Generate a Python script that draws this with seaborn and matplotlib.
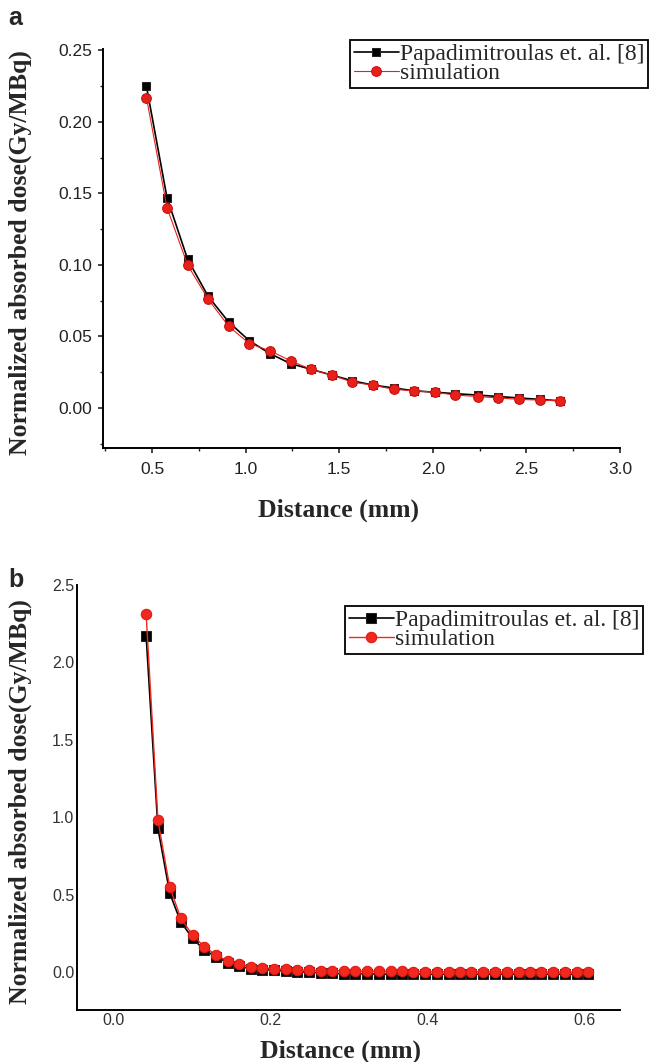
# dose profiles: comparison with Papadimitroulas et. al.
import matplotlib
matplotlib.use("Agg")
import seaborn as sns
import matplotlib.pyplot as plt
from matplotlib.ticker import MultipleLocator

# panel a
dist_a = [0.47, 0.58, 0.69, 0.80, 0.91, 1.02, 1.13, 1.24, 1.35, 1.46, 1.57,
          1.68, 1.79, 1.90, 2.01, 2.12, 2.24, 2.35, 2.46, 2.57, 2.68]
papa_a = [0.225, 0.147, 0.104, 0.078, 0.060, 0.047, 0.038, 0.031, 0.027, 0.023, 0.019,
          0.016, 0.014, 0.012, 0.011, 0.010, 0.009, 0.008, 0.007, 0.006, 0.005]
sim_a = [0.217, 0.140, 0.100, 0.076, 0.057, 0.045, 0.040, 0.033, 0.027, 0.023, 0.018,
         0.016, 0.013, 0.012, 0.011, 0.009, 0.008, 0.007, 0.006, 0.0055, 0.005]

# panel b
dist_b = [0.042, 0.057, 0.072, 0.086, 0.101, 0.116, 0.131, 0.146, 0.160, 0.175,
          0.190, 0.205, 0.220, 0.234, 0.249, 0.264, 0.279, 0.294, 0.308, 0.323,
          0.338, 0.353, 0.368, 0.382, 0.397, 0.412, 0.427, 0.442, 0.456, 0.471,
          0.486, 0.501, 0.516, 0.530, 0.545, 0.560, 0.575, 0.590, 0.604]
papa_b = [2.17, 0.93, 0.51, 0.325, 0.22, 0.143, 0.10, 0.061, 0.040, 0.022,
          0.017, 0.013, 0.007, 0.003, 0.0, -0.005, -0.008, -0.010, -0.010, -0.010,
          -0.012, -0.012, -0.012, -0.012, -0.013, -0.013, -0.013, -0.013, -0.013, -0.013,
          -0.013, -0.013, -0.013, -0.013, -0.013, -0.013, -0.013, -0.013, -0.013]
sim_b = [2.31, 0.98, 0.55, 0.35, 0.24, 0.165, 0.11, 0.072, 0.050, 0.035,
         0.028, 0.022, 0.018, 0.014, 0.012, 0.010, 0.009, 0.008, 0.007, 0.006,
         0.006, 0.005, 0.005, 0.004, 0.004, 0.004, 0.003, 0.003, 0.003, 0.003,
         0.002, 0.002, 0.002, 0.002, 0.002, 0.002, 0.001, 0.001, 0.001]

labels = ["Papadimitroulas et. al. [8]", "simulation"]

sns.set_style("ticks")
plt.rcParams["font.family"] = ["Liberation Sans", "DejaVu Sans"]

fig = plt.figure(figsize=(6.49, 10.62), dpi=100)
ax1 = fig.add_axes([103/649, 1-448/1062, 517/649, 399/1062])
ax2 = fig.add_axes([77/649, 1-1010/1062, 543/649, 425/1062])

serif = ["Liberation Serif", "DejaVu Serif"]

# (a)
sns.lineplot(x=dist_a, y=papa_a, ax=ax1, color="black", marker="s", markersize=5.5,
             markeredgecolor="#222", linewidth=1.2, label=labels[0])
sns.lineplot(x=dist_a, y=sim_a, ax=ax1, color="#e8201a", marker="o", markersize=7,
             markeredgecolor="#c81010", linewidth=0.8, label=labels[1])
ax1.set_xlim(0.238, 3.0)
ax1.set_ylim(-0.028, 0.251)
ax1.xaxis.set_major_locator(MultipleLocator(0.5))
ax1.xaxis.set_minor_locator(MultipleLocator(0.25))
ax1.yaxis.set_major_locator(MultipleLocator(0.05))
ax1.yaxis.set_minor_locator(MultipleLocator(0.025))
ax1.set_yticks([0.0, 0.05, 0.10, 0.15, 0.20, 0.25])
ax1.set_yticklabels(["0.00", "0.05", "0.10", "0.15", "0.20", "0.25"])
ax1.tick_params(which="major", direction="out", length=3.6, width=1.2, labelsize=12.5,
                labelcolor="#222")
ax1.tick_params(axis="x", which="major", pad=6.5)
ax1.tick_params(axis="y", which="major", pad=4)
ax1.tick_params(which="minor", direction="out", length=2.5, width=1)

# (b)
sns.lineplot(x=dist_b, y=papa_b, ax=ax2, color="black", marker="s", markersize=6.5,
             markeredgecolor="#222", linewidth=1.2, label=labels[0])
sns.lineplot(x=dist_b, y=sim_b, ax=ax2, color="#f0281e", marker="o", markersize=7.5,
             markeredgecolor="#e01810", linewidth=1.0, label=labels[1])
ax2.set_xlim(-0.046, 0.645)
ax2.set_ylim(-0.244, 2.5)
ax2.set_xticks([0.0, 0.2, 0.4, 0.6])
ax2.set_yticks([0.0, 0.5, 1.0, 1.5, 2.0, 2.5])
ax2.tick_params(length=0, pad=2, labelsize=11.5, labelcolor="#333")

for ax in (ax1, ax2):
    sns.despine(ax=ax)
    for s in ("left", "bottom"):
        ax.spines[s].set_linewidth(1.4)
        ax.spines[s].set_color("black")
    ax.set_xlabel("Distance (mm)", fontsize=18.5, fontweight="bold", family=serif)
    ax.set_ylabel("Normalized absorbed dose(Gy/MBq)", fontsize=18.5, fontweight="bold",
                  family=serif)

ax1.xaxis.set_label_coords(0.455, -0.127)
ax1.yaxis.set_label_coords(-0.137, 0.49)
ax2.xaxis.set_label_coords(0.486, -0.069)
ax2.yaxis.set_label_coords(-0.083, 0.49)

leg_a = ax1.legend(loc="upper right", bbox_to_anchor=(648/649, 1-40/1062),
                   bbox_transform=fig.transFigure, prop={"family": serif, "size": 17},
                   frameon=True, fancybox=False, edgecolor="black", framealpha=1,
                   handlelength=1.9, handletextpad=0.05, borderpad=0.15, labelspacing=-0.1,
                   borderaxespad=0)
leg_b = ax2.legend(loc="upper right", bbox_to_anchor=(643/649, 1-606/1062),
                   bbox_transform=fig.transFigure, prop={"family": serif, "size": 17},
                   frameon=True, fancybox=False, edgecolor="black", framealpha=1,
                   handlelength=1.9, handletextpad=0.05, borderpad=0.15, labelspacing=-0.1,
                   borderaxespad=0)
for leg in (leg_a, leg_b):
    leg.get_frame().set_linewidth(1.3)

fig.text(8/649, 1-18/1062, "a", fontsize=18, fontweight="bold", va="center")
fig.text(8/649, 1-580/1062, "b", fontsize=18, fontweight="bold", va="center")

fig.savefig("out.png", dpi=100)
